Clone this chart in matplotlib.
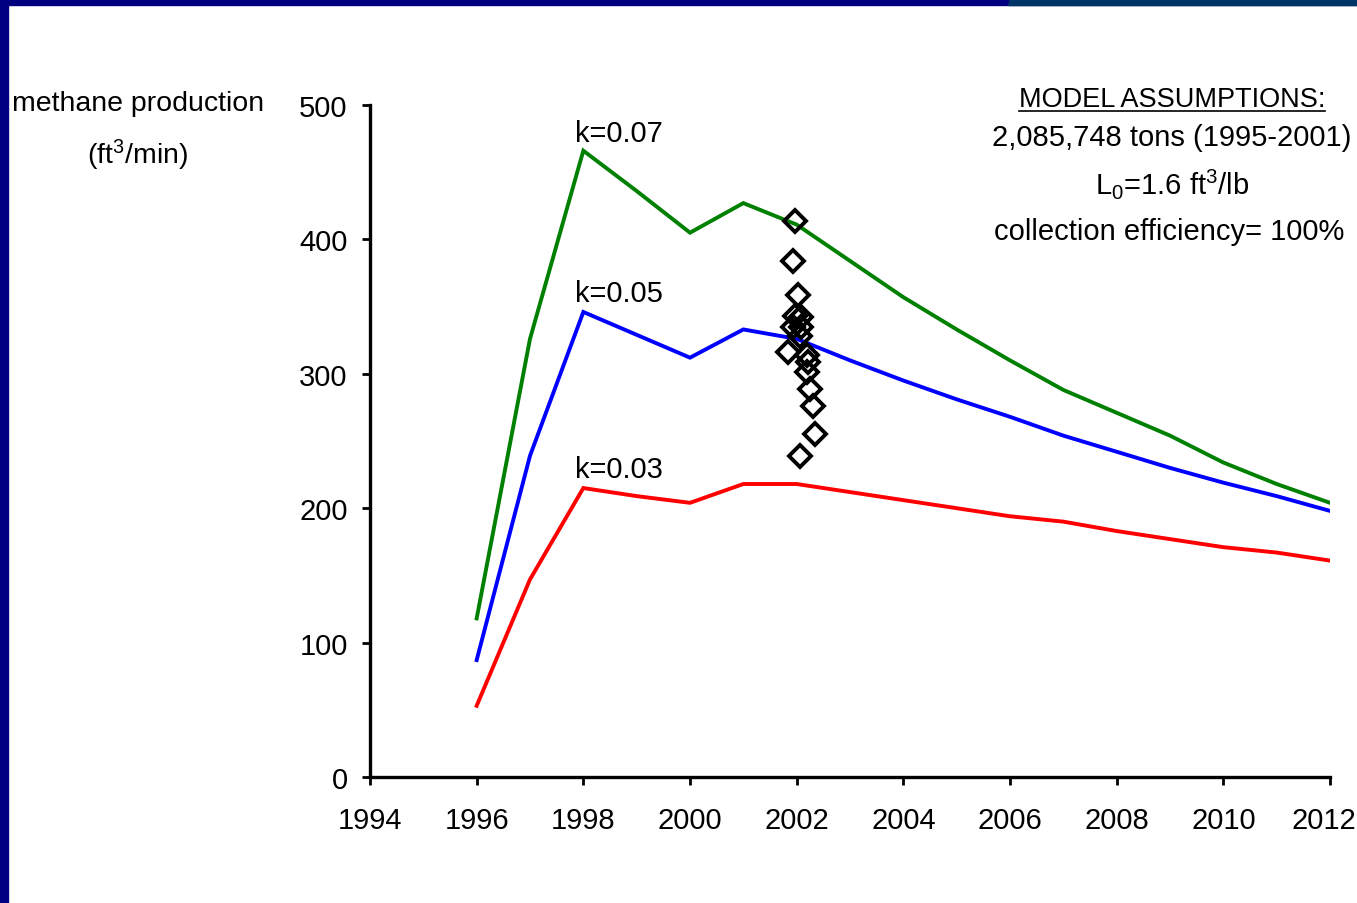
import matplotlib
matplotlib.use("Agg")
import matplotlib.pyplot as plt
from matplotlib.patches import Rectangle, Polygon
from matplotlib.lines import Line2D

plt.rcParams['font.family'] = ['Liberation Sans', 'DejaVu Sans']
plt.rcParams['mathtext.fontset'] = 'custom'
plt.rcParams['mathtext.rm'] = 'Liberation Sans'
plt.rcParams['mathtext.it'] = 'Liberation Sans'
plt.rcParams['mathtext.bf'] = 'Liberation Sans'

years = [1996, 1997, 1998, 1999, 2000, 2001, 2002, 2003, 2004, 2005, 2006,
         2007, 2008, 2009, 2010, 2011, 2012]
k007 = [118, 326, 466, 436, 405, 427, 411, 384, 357, 333, 310, 288, 271, 254, 234, 218, 204]
k005 = [87, 239, 346, 329, 312, 333, 326, 310, 295, 281, 268, 254, 242, 230, 219, 209, 198]
k003 = [53, 147, 215, 209, 204, 218, 218, 212, 206, 200, 194, 190, 183, 177, 171, 167, 161]

obs_year = [2001.96, 2001.94, 2002.02, 2002.09, 2001.97, 2001.94, 2002.09, 2002.06,
            2001.84, 2002.21, 2002.19, 2002.19, 2002.25, 2002.30, 2002.34, 2002.06]
obs_val = [414, 384, 359, 342, 343, 335, 335, 328, 316, 309, 314, 301, 289, 276, 255, 239]

x_ticks = list(range(1994, 2013, 2))
x_tick_labels = [str(v) for v in x_ticks]
y_ticks = [0, 100, 200, 300, 400, 500]
labels = ["k=0.07", "k=0.05", "k=0.03"]

FS = 21

W, H = 1357, 904
fig = plt.figure(figsize=(W / 100, H / 100), dpi=100)
fig.patch.set_facecolor('white')

ax = fig.add_axes([370 / W, 1 - 778 / H, (1330 - 370) / W, (778 - 106) / H])
ax.plot(years, k007, color='#008000', lw=2.8, solid_joinstyle='miter')
ax.plot(years, k005, color='#0000FF', lw=2.8, solid_joinstyle='miter')
ax.plot(years, k003, color='#FF0000', lw=2.8, solid_joinstyle='miter')
ax.plot(obs_year, obs_val, linestyle='none', marker='D', ms=11,
        mfc='none', mec='black', mew=2.8, zorder=5)

ax.set_xlim(1994, 2012)
ax.set_ylim(0, 500)
ax.set_xticks(x_ticks)
# last label is drawn separately so it stays inside the figure, like the original
ax.set_xticklabels(x_tick_labels[:-1] + [''])
ax.set_yticks(y_ticks)
for s in ['top', 'right']:
    ax.spines[s].set_visible(False)
for s in ['left', 'bottom']:
    ax.spines[s].set_linewidth(2.4)
    ax.spines[s].set_color('black')
ax.tick_params(axis='both', direction='out', length=6, width=2, labelsize=FS,
               colors='black')
ax.tick_params(axis='y', pad=10)
ax.tick_params(axis='x', pad=15)
ax.set_facecolor('none')

# series labels
ax.text(1997.84, 479, labels[0], fontsize=FS, ha='left', va='center')
ax.text(1997.84, 360, labels[1], fontsize=FS, ha='left', va='center')
ax.text(1997.84, 229, labels[2], fontsize=FS, ha='left', va='center')


def fx(px):
    return px / W


def fy(py):
    return 1 - py / H


fig.canvas.draw()
lab0 = ax.get_xticklabels()[0]
bb0 = lab0.get_window_extent()
fig.text(fx(1356), (bb0.y0 + bb0.y1) / 2 / H, x_tick_labels[-1], fontsize=FS,
         ha='right', va='center')

fig.text(fx(138), fy(104), "methane production", fontsize=20.5, ha='center', va='center')
fig.text(fx(138), fy(155), "(ft$^3$/min)", fontsize=20.5, ha='center', va='center')

t_title = fig.text(fx(1172), fy(100), "MODEL ASSUMPTIONS:", fontsize=FS - 1.5,
                   ha='center', va='center')
fig.text(fx(1172), fy(138), "2,085,748 tons (1995-2001)", fontsize=FS,
         ha='center', va='center')
fig.text(fx(1172), fy(184), "L$_0$=1.6 ft$^3$/lb", fontsize=FS,
         ha='center', va='center')
fig.text(fx(1169), fy(232), "collection efficiency= 100%", fontsize=FS,
         ha='center', va='center')

# underline for title
fig.canvas.draw()
bb = t_title.get_window_extent()
uy = bb.y0 + 1
fig.add_artist(Line2D([bb.x0 / W, bb.x1 / W], [uy / H, uy / H],
                      transform=fig.transFigure, color='black', lw=1.2))

# frame bands
fig.add_artist(Rectangle((0, 0), 8 / W, 1, transform=fig.transFigure,
                         color='#000080', zorder=10))
fig.add_artist(Rectangle((0, 1 - 6 / H), 1, 6 / H, transform=fig.transFigure,
                         color='#000080', zorder=10))
fig.add_artist(Polygon([(1010 / W, 1), (1, 1), (1, 1 - 6 / H), (1008 / W, 1 - 6 / H)],
                       closed=True, transform=fig.transFigure,
                       color='#003366', zorder=11))

fig.savefig("out.png", dpi=100)
